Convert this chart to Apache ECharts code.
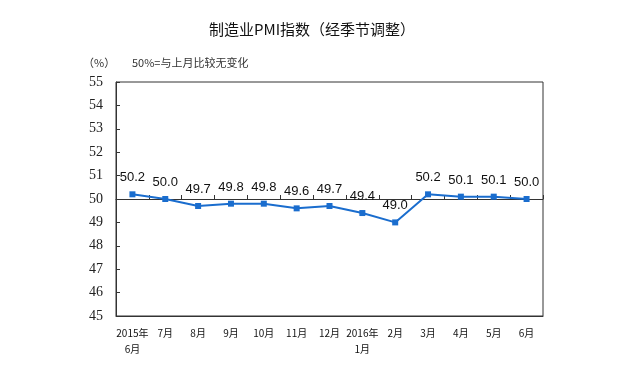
<!DOCTYPE html>
<html>
<head>
<meta charset="utf-8">
<script src="https://cdn.jsdelivr.net/npm/echarts@6/dist/echarts.min.js"></script>
<style>
html,body{margin:0;padding:0;background:#fff;}
#main{width:624px;height:376px;}
</style>
</head>
<body>
<div id="main"></div>
<script>
// 月份
var months = ['2015年\n6月', '7月', '8月', '9月', '10月', '11月', '12月', '2016年\n1月', '2月', '3月', '4月', '5月', '6月'];
// PMI值
var pmi = [50.2, 50.0, 49.7, 49.8, 49.8, 49.6, 49.7, 49.4, 49.0, 50.2, 50.1, 50.1, 50.0];
var yMin = 45, yMax = 55, yStep = 1;

var myChart = echarts.init(document.getElementById('main'));
var gridTop = 82, gridBottom = 60;
var gridH = 376 - gridTop - gridBottom;
var option = {
    animation: false,
    title: [
        {
            text: '制造业PMI指数（经季节调整）',
            left: 'center',
            top: 17,
            textStyle: {fontFamily: 'Noto Sans CJK SC', fontSize: 15, fontWeight: 'normal', color: '#111'}
        },
        {
            text: '（%）',
            left: 78,
            top: 52,
            textStyle: {fontFamily: 'Noto Sans CJK SC', fontSize: 11, fontWeight: 'normal', color: '#333'}
        },
        {
            text: '50%=与上月比较无变化',
            left: 127,
            top: 52,
            textStyle: {fontFamily: 'Noto Sans CJK SC', fontSize: 11, fontWeight: 'normal', color: '#333'}
        }
    ],
    grid: {
        left: 116,
        right: 81,
        top: gridTop,
        bottom: gridBottom,
        show: true,
        borderColor: '#333',
        borderWidth: 1
    },
    xAxis: [
        {
            type: 'category',
            data: months,
            boundaryGap: true,
            axisLine: {show: true, lineStyle: {color: '#333'}},
            axisTick: {show: false},
            axisLabel: {
                interval: 0,
                margin: 9,
                fontFamily: 'Noto Sans CJK SC',
                fontSize: 10,
                color: '#111',
                lineHeight: 16
            }
        },
        {
            // 50 处的横线
            type: 'category',
            data: months,
            position: 'bottom',
            offset: -gridH / 2,
            boundaryGap: true,
            axisLine: {show: true, lineStyle: {color: '#333', width: 1}},
            axisTick: {show: true, inside: true, length: 4, interval: 0, lineStyle: {color: '#333'}},
            axisLabel: {show: false}
        }
    ],
    yAxis: {
        type: 'value',
        min: yMin,
        max: yMax,
        interval: yStep,
        axisLine: {show: true, lineStyle: {color: '#333'}},
        axisTick: {show: true, inside: true, length: 4, lineStyle: {color: '#333'}},
        splitLine: {show: false},
        axisLabel: {
            margin: 13,
            fontFamily: 'Liberation Serif',
            fontSize: 14,
            color: '#222'
        }
    },
    series: [
        {
            name: 'PMI',
            type: 'line',
            data: pmi,
            symbol: 'rect',
            symbolSize: 6,
            itemStyle: {color: '#1a6dce'},
            lineStyle: {color: '#1a6dce', width: 2},
            label: {
                show: true,
                position: 'top',
                distance: 7,
                fontFamily: 'Liberation Sans',
                fontSize: 13,
                color: '#111',
                formatter: function (p) { return p.value.toFixed(1); }
            }
        }
    ]
};
myChart.setOption(option);
</script>
</body>
</html>
